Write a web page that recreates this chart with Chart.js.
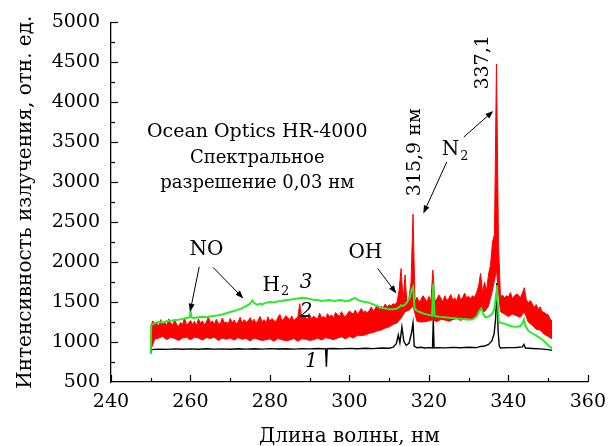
<!DOCTYPE html>
<html>
<head>
<meta charset="utf-8">
<script src="https://cdn.jsdelivr.net/npm/chart.js@4"></script>
<style>
  body { margin: 0; background: #fff; }
  canvas { display: block; }
</style>
</head>
<body>
<canvas id="spectrum" width="615" height="446"></canvas>
<script>
// Axis setup
const xRange = [240, 360];
const yRange = [500, 5000];
const xTickStep = 20;
const yTickStep = 500;

// Curve 1 (black): [wavelength, intensity]
const blackPoints = [
  [250, 860], [250.2, 905], [252, 912], [254, 908], [256, 915], [258, 910], [260, 914],
  [262, 909], [264, 916], [266, 911], [268, 915], [270, 910], [272, 917], [274, 912],
  [276, 916], [278, 911], [280, 918], [282, 913], [284, 917], [286, 912], [288, 918],
  [290, 914], [292, 919], [294, 915], [294.2, 690], [294.4, 916], [296, 920], [298, 915],
  [300, 921], [302, 917], [304, 922], [306, 918], [308, 925], [310, 922], [311, 935],
  [311.8, 980], [312.3, 1090], [312.7, 990], [313.2, 1190], [313.7, 1010], [314.3, 960],
  [315, 985], [315.6, 1110], [316, 1240], [316.3, 950], [317, 928], [318, 935], [319, 925],
  [320, 930], [320.9, 925], [321.1, 1275], [321.3, 925], [322, 930], [324, 927], [326, 933],
  [328, 928], [330, 935], [332, 930], [333, 945], [334, 950], [335, 970], [335.8, 1010],
  [336.4, 1100], [336.8, 1300], [337.1, 1740], [337.4, 1150], [337.7, 950], [338, 925],
  [340, 930], [342, 932], [343.5, 940], [343.9, 970], [344.3, 925], [346, 920], [348, 915],
  [350, 905], [351, 895]
];

// Curve 2 (red), a dense noisy band: upper edge every 0.5 nm, lower edge every 1 nm
const redStart = 250;
const redUpperStep = 0.5;
const redUpper = [
  1190, 1265, 1215, 1240, 1200, 1280, 1225, 1250, 1205, 1290,
  1240, 1210, 1275, 1225, 1195, 1245, 1220, 1300, 1215, 1235,
  1270, 1220, 1260, 1205, 1290, 1235, 1265, 1215, 1250, 1310,
  1240, 1265, 1220, 1285, 1235, 1225, 1300, 1240, 1250, 1230,
  1295, 1240, 1275, 1225, 1255, 1310, 1235, 1280, 1245, 1260,
  1305, 1250, 1285, 1235, 1270, 1320, 1255, 1280, 1240, 1315,
  1260, 1295, 1270, 1250, 1310, 1345, 1265, 1290, 1330, 1300,
  1280, 1325, 1265, 1295, 1310, 1480, 1285, 1340, 1300, 1290,
  1340, 1285, 1325, 1300, 1290, 1360, 1305, 1320, 1295, 1355,
  1315, 1340, 1300, 1370, 1345, 1320, 1380, 1335, 1315, 1355,
  1390, 1365, 1350, 1400, 1345, 1380, 1420, 1370, 1390, 1365,
  1395, 1440, 1385, 1420, 1465, 1405, 1445, 1430, 1475, 1440,
  1465, 1450, 1480, 1470, 1500, 1650, 1920, 1520, 1840, 1450,
  1560, 1750, 2600, 1500, 1560, 1500, 1530, 1580, 1545, 1500,
  1570, 1505, 1900, 1510, 1540, 1590, 1550, 1500, 1580, 1520,
  1545, 1595, 1530, 1550, 1515, 1600, 1525, 1560, 1610, 1555,
  1570, 1545, 1580, 1560, 1620, 1700, 1860, 1620, 1750, 1640,
  1850, 1960, 2250, 2350, 4480, 2250, 1560, 1590, 1550, 1580,
  1560, 1620, 1545, 1575, 1600, 1590, 1550, 1610, 1680, 1530,
  1490, 1520, 1480, 1430, 1470, 1410, 1440, 1380, 1370, 1350,
  1340, 1290, 1260
];
const redLowerStep = 1;
const redLower = [
  900, 1035, 1050, 1070, 1030, 1060, 1045, 1020, 1050, 1060,
  1030, 1060, 1050, 1025, 1055, 1045, 1060, 1020, 1050, 1035,
  1050, 1025, 1055, 1035, 1045, 1015, 1050, 1035, 1020, 1030,
  1040, 1010, 1045, 1030, 1015, 1025, 1045, 1010, 1040, 1035,
  1020, 1030, 1050, 1025, 1055, 1045, 1030, 1050, 1065, 1040,
  1070, 1050, 1085, 1080, 1090, 1110, 1120, 1140, 1150, 1175,
  1190, 1220, 1240, 1300, 1380, 1400, 1450, 1260, 1250, 1255,
  1265, 1280, 1255, 1285, 1275, 1260, 1280, 1295, 1270, 1300,
  1295, 1280, 1330, 1400, 1380, 1450, 1650, 1900, 1380, 1350,
  1320, 1350, 1330, 1310, 1380, 1250, 1210, 1160, 1150, 1100,
  1070, 1040
];

// Curve 3 (green): [wavelength, intensity]
const greenPoints = [
  [250, 850], [250.1, 1210], [251, 1240], [252, 1250], [253, 1245], [254, 1260], [255, 1265],
  [256, 1275], [257, 1280], [258, 1290], [259, 1300], [259.8, 1310], [260, 1390], [260.3, 1305],
  [261, 1300], [262, 1310], [263, 1315], [264, 1310], [265, 1320], [266, 1330], [267, 1335],
  [268, 1345], [269, 1360], [270, 1375], [271, 1390], [272, 1405], [273, 1425], [274, 1450],
  [275, 1480], [275.6, 1520], [276, 1490], [276.8, 1465], [277.5, 1480], [278, 1470],
  [279, 1490], [280, 1500], [281, 1495], [282, 1510], [283, 1515], [284, 1525], [285, 1530],
  [286, 1540], [287, 1545], [288, 1555], [289, 1550], [290, 1540], [291, 1530], [292, 1525],
  [293, 1515], [294, 1520], [295, 1525], [296, 1515], [297, 1520], [298, 1525], [299, 1510],
  [300, 1520], [301, 1545], [301.5, 1550], [302, 1530], [303, 1510], [304, 1500], [305, 1490],
  [306, 1470], [307, 1450], [308, 1430], [309, 1420], [310, 1410], [311, 1410], [312, 1420],
  [312.6, 1440], [313, 1460], [313.5, 1450], [314, 1470], [314.6, 1505], [315.2, 1560],
  [315.6, 1650], [316, 1690], [316.4, 1420], [317, 1390], [318, 1370], [319, 1350], [320, 1340],
  [320.8, 1330], [321.1, 1730], [321.4, 1330], [322, 1320], [323, 1315], [324, 1310],
  [325, 1305], [326, 1300], [327, 1295], [328, 1290], [329, 1285], [330, 1280], [331, 1285],
  [332, 1320], [332.8, 1400], [333.2, 1420], [333.6, 1360], [334.2, 1310], [335, 1320],
  [335.6, 1340], [336, 1360], [336.5, 1420], [336.9, 1600], [337.1, 1710], [337.3, 1500],
  [337.6, 1260], [338, 1240], [339, 1230], [340, 1210], [341, 1195], [342, 1190], [343, 1200],
  [343.6, 1240], [343.9, 1280], [344.3, 1200], [345, 1140], [346, 1110], [347, 1080],
  [348, 1050], [349, 1010], [350, 960], [351, 920]
];

// Text notes, placed in data units
const infoLines = ['Ocean Optics HR-4000', 'Спектральное', 'разрешение 0,03 нм'];
const infoPos = [276.8, 3630, 3305, 2980];
const labels = [
  { text: 'NO', wl: 264.0, v: 2150 },
  { text: 'H', sub: '2', wl: 281.5, v: 1700 },
  { text: 'OH', wl: 304.0, v: 2112 },
  { text: 'N', sub: '2', wl: 326.6, v: 3400 }
];
const curveNums = [
  { text: '3', wl: 289.1, v: 1737 },
  { text: '2', wl: 289.1, v: 1375 },
  { text: '1', wl: 290.4, v: 750 }
];
const rotated = [
  { text: '315,9 нм', wl: 316.5, v: 3375 },
  { text: '337,1', wl: 333.6, v: 4500 }
];
const arrows = [
  [262.2, 1941, 259.9, 1379],
  [265.7, 1934, 273.3, 1546],
  [307.1, 1921, 311.8, 1609],
  [324.5, 3254, 318.6, 2609],
  [328.8, 3566, 336.2, 3891]
];

const SERIF = '"DejaVu Serif", serif';
Chart.defaults.font.family = SERIF;
Chart.defaults.color = '#000';

const toXY = pts => pts.map(p => ({ x: p[0], y: p[1] }));
const onGrid = (vals, step) => vals.map((v, i) => ({ x: redStart + i * step, y: v }));

function arrow(ctx, x0, y0, x1, y1) {
  const a = Math.atan2(y1 - y0, x1 - x0);
  const len = 8, half = 3;
  ctx.beginPath();
  ctx.moveTo(x0, y0);
  ctx.lineTo(x1 - Math.cos(a) * len * 0.8, y1 - Math.sin(a) * len * 0.8);
  ctx.stroke();
  ctx.beginPath();
  ctx.moveTo(x1, y1);
  ctx.lineTo(x1 - Math.cos(a) * len - Math.sin(a) * half, y1 - Math.sin(a) * len + Math.cos(a) * half);
  ctx.lineTo(x1 - Math.cos(a) * len + Math.sin(a) * half, y1 - Math.sin(a) * len - Math.cos(a) * half);
  ctx.closePath();
  ctx.fill();
}

// inward ticks + all the notes
const decorations = {
  id: 'decorations',
  afterDraw(chart) {
    const { ctx, scales: { x, y }, chartArea: area } = chart;
    ctx.save();
    ctx.strokeStyle = '#000';
    ctx.fillStyle = '#000';
    ctx.lineWidth = 1.2;

    for (let v = xRange[0]; v <= xRange[1]; v += xTickStep / 2) {
      const px = Math.round(x.getPixelForValue(v)) + 0.5;
      const len = v % xTickStep === 0 ? 7 : 4;
      ctx.beginPath();
      ctx.moveTo(px, area.bottom);
      ctx.lineTo(px, area.bottom - len);
      ctx.stroke();
    }
    for (let v = yRange[0] + yTickStep / 2; v <= yRange[1]; v += yTickStep / 2) {
      const py = Math.round(y.getPixelForValue(v)) + 0.5;
      const len = v % yTickStep === 0 ? 7 : 4;
      ctx.beginPath();
      ctx.moveTo(area.left, py);
      ctx.lineTo(area.left + len, py);
      ctx.stroke();
    }

    ctx.textAlign = 'center';
    ctx.textBaseline = 'middle';

    infoLines.forEach((t, i) => {
      ctx.font = (i === 0 ? '19px ' : '18px ') + SERIF;
      ctx.fillText(t, x.getPixelForValue(infoPos[0]), y.getPixelForValue(infoPos[i + 1]));
    });

    labels.forEach(l => {
      const px = x.getPixelForValue(l.wl), py = y.getPixelForValue(l.v);
      ctx.font = '20px ' + SERIF;
      const w1 = ctx.measureText(l.text).width;
      let w2 = 0;
      if (l.sub) {
        ctx.font = '13px ' + SERIF;
        w2 = ctx.measureText(l.sub).width + 1;
      }
      const left = px - (w1 + w2) / 2;
      ctx.textAlign = 'left';
      ctx.font = '20px ' + SERIF;
      ctx.fillText(l.text, left, py);
      if (l.sub) {
        ctx.font = '13px ' + SERIF;
        ctx.fillText(l.sub, left + w1 + 1, py + 6);
      }
      ctx.textAlign = 'center';
    });

    ctx.font = 'italic 20px ' + SERIF;
    curveNums.forEach(l => ctx.fillText(l.text, x.getPixelForValue(l.wl), y.getPixelForValue(l.v)));

    ctx.font = '19px ' + SERIF;
    rotated.forEach(l => {
      ctx.save();
      ctx.translate(x.getPixelForValue(l.wl), y.getPixelForValue(l.v));
      ctx.rotate(-Math.PI / 2);
      ctx.fillText(l.text, 0, 0);
      ctx.restore();
    });

    ctx.lineWidth = 1;
    arrows.forEach(a => arrow(ctx,
      x.getPixelForValue(a[0]), y.getPixelForValue(a[1]),
      x.getPixelForValue(a[2]), y.getPixelForValue(a[3])));
    ctx.restore();
  }
};

const RED = 'rgb(255, 0, 0)';

new Chart(document.getElementById('spectrum'), {
  type: 'line',
  data: {
    datasets: [
      { label: '3', data: toXY(greenPoints), borderColor: 'rgb(40, 236, 40)', borderWidth: 2, order: 0 },
      { label: '1', data: toXY(blackPoints), borderColor: '#000', borderWidth: 1.4, order: 1 },
      { label: '2', data: onGrid(redUpper, redUpperStep), borderColor: RED, backgroundColor: RED, borderWidth: 1, fill: '+1', order: 2 },
      { label: '2 low', data: onGrid(redLower, redLowerStep), borderColor: RED, borderWidth: 1, order: 3 }
    ]
  },
  options: {
    responsive: false,
    animation: false,
    layout: { padding: { top: 22, right: 18, left: 0, bottom: 0 } },
    elements: { point: { radius: 0 }, line: { tension: 0 } },
    plugins: { legend: { display: false }, tooltip: { enabled: false } },
    scales: {
      x: {
        type: 'linear',
        min: xRange[0],
        max: xRange[1],
        ticks: { stepSize: xTickStep, padding: 9, font: { size: 19 }, color: '#000', callback: v => String(v) },
        grid: { display: false, drawTicks: false },
        border: { display: true, color: '#000', width: 1.3 },
        title: { display: true, text: 'Длина волны, нм', font: { size: 20 }, color: '#000', padding: { top: 0, bottom: -3 } },
        afterFit(s) { s.height = 64; }
      },
      y: {
        type: 'linear',
        min: yRange[0],
        max: yRange[1],
        ticks: { stepSize: yTickStep, padding: 11, font: { size: 19 }, color: '#000', callback: v => String(v) },
        grid: { display: false, drawTicks: false },
        border: { display: true, color: '#000', width: 1.3 },
        title: { display: true, text: 'Интенсивность излучения, отн. ед.', font: { size: 20 }, color: '#000', padding: { top: 14, bottom: 0 } },
        afterFit(s) { s.width = 111; }
      }
    }
  },
  plugins: [decorations]
});
</script>
</body>
</html>
